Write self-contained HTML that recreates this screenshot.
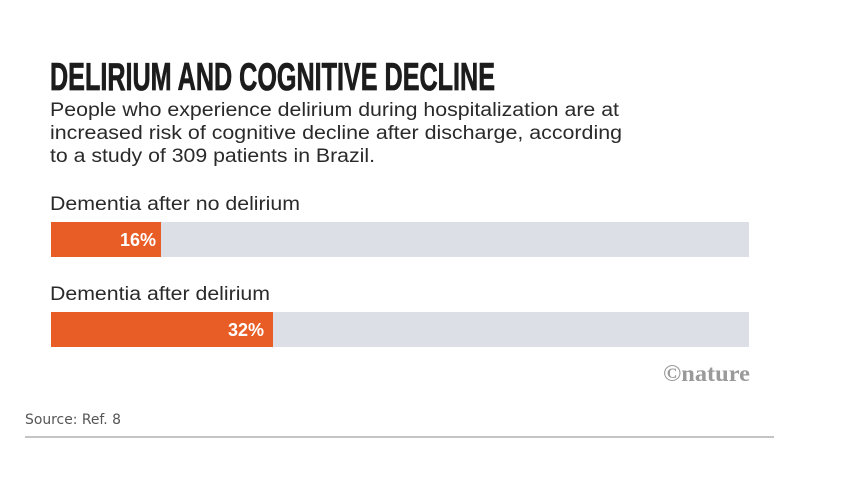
<!DOCTYPE html>
<html><head><meta charset="utf-8"><style>
html,body{margin:0;padding:0;background:#fff;}
svg{display:block;}
</style></head><body>
<svg width="854" height="501" viewBox="0 0 854 501" xmlns="http://www.w3.org/2000/svg">
<rect width="854" height="501" fill="#fff"/>
<text x="50" y="90" font-family="Liberation Sans, sans-serif" font-weight="bold" font-size="39" fill="#1c1c1c" stroke="#1c1c1c" stroke-width="0.8" textLength="445" lengthAdjust="spacingAndGlyphs">DELIRIUM AND COGNITIVE DECLINE</text>
<g font-family="Liberation Sans, sans-serif" font-size="19" fill="#2a2a2a">
<text x="50" y="116" textLength="569" lengthAdjust="spacingAndGlyphs">People who experience delirium during hospitalization are at</text>
<text x="50" y="139" textLength="572" lengthAdjust="spacingAndGlyphs">increased risk of cognitive decline after discharge, according</text>
<text x="50" y="162" textLength="325" lengthAdjust="spacingAndGlyphs">to a study of 309 patients in Brazil.</text>
<text x="50" y="210" textLength="250" lengthAdjust="spacingAndGlyphs">Dementia after no delirium</text>
<text x="50" y="300" textLength="220" lengthAdjust="spacingAndGlyphs">Dementia after delirium</text>
</g>
<rect x="51" y="222" width="698" height="35" fill="#dcdfe5"/>
<rect x="51" y="222" width="110" height="35" fill="#e85d26"/>
<rect x="51" y="312" width="698" height="35" fill="#dcdfe5"/>
<rect x="51" y="312" width="222" height="35" fill="#e85d26"/>
<g font-family="Liberation Sans, sans-serif" font-weight="bold" font-size="18" fill="#fff" text-anchor="end">
<text x="156" y="246">16%</text>
<text x="264" y="336">32%</text>
</g>
<text x="663" y="381" font-family="Liberation Serif, serif" font-weight="bold" font-size="23" fill="#9a9a9a" textLength="87" lengthAdjust="spacingAndGlyphs">©nature</text>
<text x="25" y="424" font-family="DejaVu Sans, sans-serif" font-size="14" fill="#555" textLength="96" lengthAdjust="spacingAndGlyphs">Source: Ref. 8</text>
<rect x="25" y="436.5" width="749" height="1" fill="#8a8a8a"/>
</svg>
</body></html>
